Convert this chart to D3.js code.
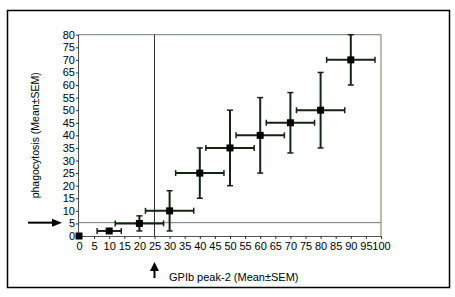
<!DOCTYPE html>
<html><head><meta charset="utf-8">
<script src="https://cdn.jsdelivr.net/npm/d3@7"></script>
<style>body{margin:0;background:#fff}svg{display:block}</style>
</head><body>
<script>
const xValues   = [0, 10, 20, 30, 40, 50, 60, 70, 80, 90];
const yValues   = [0, 2, 5, 10, 25, 35, 40, 45, 50, 70];
const xErrLow   = [0, 6, 12, 22, 32, 42, 52, 62, 72, 82];
const xErrHigh  = [0, 14, 28, 38, 48, 58, 68, 78, 88, 98];
const yErrLow   = [0, 2, 2, 2, 15, 20, 25, 33, 35, 60];
const yErrHigh  = [0, 2, 8, 18, 35, 50, 55, 57, 65, 80];
const xTicks = d3.range(0, 101, 5);
const yTicks = d3.range(0, 81, 5);
const xThreshold = 25;
const yThreshold = 5.3;
const xTitle = "GPIb peak-2 (Mean±SEM)";
const yTitle = "phagocytosis (Mean±SEM)";

const W = 455, H = 297;
const svg = d3.select("body").append("svg").attr("width", W).attr("height", H);
const font = "Arial, 'Liberation Sans', sans-serif";

svg.append("rect").attr("x", 7.5).attr("y", 10.5).attr("width", 442).attr("height", 277)
  .attr("fill", "none").attr("stroke", "#000").attr("stroke-width", 1.5);

const x = d3.scaleLinear().domain([0, 100]).range([79, 381]);
const y = d3.scaleLinear().domain([0, 80]).range([236, 34.7]);

const data = xValues.map((v, i) => ({x: v, y: yValues[i], xl: xErrLow[i], xh: xErrHigh[i], yl: yErrLow[i], yh: yErrHigh[i]}));

const frameColor = "#6f7f6f";
svg.append("line").attr("x1", x(0)).attr("x2", x(100)).attr("y1", y(80)).attr("y2", y(80)).attr("stroke", frameColor).attr("stroke-width", 1);
svg.append("line").attr("x1", x(100)).attr("x2", x(100)).attr("y1", y(80)).attr("y2", y(0)).attr("stroke", frameColor).attr("stroke-width", 1);
svg.append("line").attr("x1", x(0)).attr("x2", x(100)).attr("y1", y(yThreshold)).attr("y2", y(yThreshold)).attr("stroke", frameColor).attr("stroke-width", 1);
svg.append("line").attr("x1", x(xThreshold)).attr("x2", x(xThreshold)).attr("y1", y(80)).attr("y2", y(0)).attr("stroke", "#333").attr("stroke-width", 1);

const xAxis = d3.axisBottom(x).tickValues(xTicks).tickSize(3).tickPadding(3).tickFormat(d3.format("d"));
const yAxis = d3.axisLeft(y).tickValues(yTicks).tickSize(3).tickPadding(1).tickFormat(d3.format("d"));
const gx = svg.append("g").attr("transform", `translate(0,${y(0)})`).call(xAxis);
const gy = svg.append("g").attr("transform", `translate(${x(0)},0)`).call(yAxis);
[gx, gy].forEach(g => {
  g.select(".domain").attr("stroke", "#555").attr("stroke-width", 1);
  g.selectAll(".tick line").attr("stroke", "#333");
  g.selectAll("text").attr("font-family", font).attr("font-size", 11).attr("fill", "#000");
});
gy.select(".domain").attr("d", `M-0.5,${y(80)}V${y(0)}`);
gx.select(".domain").attr("d", `M${x(0)},0.5H${x(100)}`);

const ebColor = "#142414";
const eb = svg.append("g").attr("stroke", ebColor).attr("stroke-width", 2);
data.filter(d => d.xh > d.xl).forEach(d => {
  eb.append("line").attr("x1", x(d.xl)).attr("x2", x(d.xh)).attr("y1", y(d.y)).attr("y2", y(d.y));
  [d.xl, d.xh].forEach(v => eb.append("line").attr("x1", x(v)).attr("x2", x(v)).attr("y1", y(d.y) - 3).attr("y2", y(d.y) + 3).attr("stroke-width", 1.5));
});
data.filter(d => d.yh > d.yl).forEach(d => {
  eb.append("line").attr("x1", x(d.x)).attr("x2", x(d.x)).attr("y1", y(d.yl)).attr("y2", y(d.yh));
  [d.yl, d.yh].forEach(v => eb.append("line").attr("x1", x(d.x) - 3).attr("x2", x(d.x) + 3).attr("y1", y(v)).attr("y2", y(v)).attr("stroke-width", 1.5));
});

svg.append("g").selectAll("rect").data(data).join("rect")
  .attr("x", d => x(d.x) - 3.5).attr("y", d => y(d.y) - 3.5)
  .attr("width", 7).attr("height", 7).attr("fill", "#000");

svg.append("text").attr("transform", `translate(39,${(y(0)+y(80))/2}) rotate(-90)`)
  .attr("text-anchor", "middle").attr("font-family", font).attr("font-size", 10.5).text(yTitle);
svg.append("text").attr("x", 169).attr("y", 281).attr("font-family", font).attr("font-size", 11).text(xTitle);

svg.append("line").attr("x1", 28).attr("x2", 54).attr("y1", y(yThreshold)).attr("y2", y(yThreshold)).attr("stroke", "#000").attr("stroke-width", 2);
svg.append("path").attr("d", `M52,${y(yThreshold)-4}L62,${y(yThreshold)}L52,${y(yThreshold)+4}Z`).attr("fill", "#000");
const ax = x(xThreshold);
svg.append("line").attr("x1", ax).attr("x2", ax).attr("y1", 268).attr("y2", 278).attr("stroke", "#000").attr("stroke-width", 2);
svg.append("path").attr("d", `M${ax-4.5},271L${ax},262L${ax+4.5},271Z`).attr("fill", "#000");
</script>
</body></html>
